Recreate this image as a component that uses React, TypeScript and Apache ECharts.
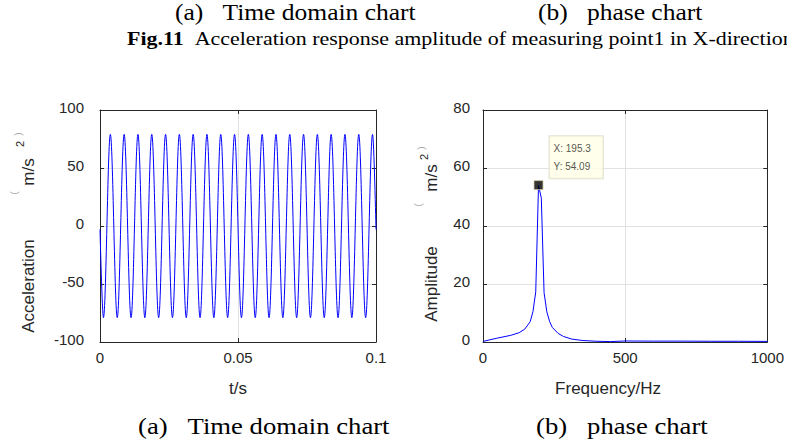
import React, { useEffect, useRef } from 'react';
import * as echarts from 'echarts';

// ---- Data ----
// (a) time-domain acceleration: extrema of the oscillation (time in ms, value in m/s^2)
const timeMs = [
  0, 1.25, 3.75, 6.25, 8.75, 11.25, 13.75, 16.25, 18.75, 21.25, 23.75,
  26.25, 28.75, 31.25, 33.75, 36.25, 38.75, 41.25, 43.75, 46.25, 48.75,
  51.25, 53.75, 56.25, 58.75, 61.25, 63.75, 66.25, 68.75, 71.25, 73.75,
  76.25, 78.75, 81.25, 83.75, 86.25, 88.75, 91.25, 93.75, 96.25, 98.75, 100,
];
const accel = [
  -3, -79, 79, -79, 79, -79, 79, -79, 79, -79, 79,
  -79, 79, -79, 79, -79, 79, -79, 79, -79, 79,
  -79, 79, -79, 79, -79, 79, -79, 79, -79, 79,
  -79, 79, -79, 79, -79, 79, -79, 79, -79, 79, -3,
];

// (b) amplitude spectrum
const freqHz = [
  0, 48.8, 97.7, 127.0, 146.5, 166.0, 175.8, 185.5, 195.3, 205.1, 214.8,
  224.6, 234.4, 244.1, 263.7, 283.2, 312.5, 351.6, 400.4, 449.2, 500.0,
  600.6, 700.2, 800.8, 899.4, 1000,
];
const amplitude = [
  0.2, 1.3, 2.3, 3.2, 4.4, 7.0, 10.5, 17.3, 54.09, 49.6, 17.0,
  10.4, 7.0, 5.0, 3.0, 1.9, 1.0, 0.5, 0.25, 0.15, 0.35,
  0.3, 0.3, 0.25, 0.25, 0.2,
];

// data tip
const tipFreq = 195.3;
const tipAmp = 54.09;

// axis ranges / ticks
const leftX = { min: 0, max: 0.1, interval: 0.05 };
const leftY = { min: -100, max: 100, interval: 50 };
const rightX = { min: 0, max: 1000, interval: 500 };
const rightY = { min: 0, max: 80, interval: 20 };

// texts
const SP3 = '\u00a0\u00a0\u00a0';
const topLine1a = `(a)${SP3}Time domain chart`;
const topLine1b = `(b)${SP3}phase chart`;
const figLabel = 'Fig.11';
const figTitle = 'Acceleration response amplitude of measuring point1 in X-direction';
const captionA = `(a)${SP3}Time domain chart`;
const captionB = `(b)${SP3}phase chart`;

const SANS = '"Liberation Sans", Arial, Helvetica, sans-serif';
const SERIF = '"Liberation Serif", "Times New Roman", serif';
const CJK = '"Noto Sans CJK SC", sans-serif';
const AX = '#262626';

const fmtNum = (v: number) => String(parseFloat(v.toFixed(4)));

function mainX(gridIndex: number, r: any) {
  return {
    type: 'value', gridIndex, position: 'bottom', ...r,
    axisLine: { show: true, onZero: false, lineStyle: { color: AX, width: 1 } },
    axisTick: { show: true, inside: true, length: 4, lineStyle: { color: AX } },
    axisLabel: { color: AX, fontSize: 15, fontFamily: SANS, margin: 8, formatter: fmtNum },
    splitLine: { show: true, lineStyle: { color: '#e2e2e2', width: 1 } },
  };
}
function boxX(gridIndex: number, r: any) {
  return {
    type: 'value', gridIndex, position: 'top', ...r,
    axisLine: { show: true, onZero: false, lineStyle: { color: AX, width: 1 } },
    axisTick: { show: true, inside: true, length: 4, lineStyle: { color: AX } },
    axisLabel: { show: false },
    splitLine: { show: false },
  };
}
function mainY(gridIndex: number, r: any, margin: number) {
  return {
    type: 'value', gridIndex, position: 'left', ...r,
    axisLine: { show: true, onZero: false, lineStyle: { color: AX, width: 1 } },
    axisTick: { show: true, inside: true, length: 4, lineStyle: { color: AX } },
    axisLabel: {
      color: AX, fontSize: 15, fontFamily: SANS, margin,
      verticalAlign: 'bottom', lineHeight: 6, formatter: fmtNum,
    },
    splitLine: { show: true, lineStyle: { color: '#e2e2e2', width: 1 } },
  };
}
function boxY(gridIndex: number, r: any) {
  return {
    type: 'value', gridIndex, position: 'right', ...r,
    axisLine: { show: true, onZero: false, lineStyle: { color: AX, width: 1 } },
    axisTick: { show: true, inside: true, length: 4, lineStyle: { color: AX } },
    axisLabel: { show: false },
    splitLine: { show: false },
  };
}

function txt(text: string, x: number, y: number, font: string, opts: any = {}) {
  return {
    type: 'text', x, y, rotation: opts.rotation || 0, scaleX: opts.scaleX || 1,
    silent: true, z: 100,
    style: {
      text, font, fill: opts.fill || AX,
      align: opts.align || 'center', verticalAlign: 'middle',
      rich: opts.rich,
    },
  };
}

export default function App() {
  const ref = useRef<HTMLDivElement>(null);
  useEffect(() => {
    document.body.style.margin = '0';
    const chart = echarts.init(ref.current!, null, { renderer: 'svg' });
    const R = Math.PI / 2;
    const option: any = {
      animation: false,
      backgroundColor: '#ffffff',
      grid: [
        { left: 100, right: 411, top: 110, bottom: 101, containLabel: false },
        { left: 483, right: 15, top: 110, bottom: 101, containLabel: false },
      ],
      xAxis: [mainX(0, leftX), boxX(0, leftX), mainX(1, rightX), boxX(1, rightX)],
      yAxis: [mainY(0, leftY, 16), boxY(0, leftY), mainY(1, rightY, 13), boxY(1, rightY)],
      series: [
        {
          type: 'line', xAxisIndex: 0, yAxisIndex: 0,
          data: timeMs.map((t, i) => [t / 1000, accel[i]]),
          smooth: 0.36, symbol: 'none',
          lineStyle: { color: '#0000ff', width: 1 },
        },
        {
          type: 'line', xAxisIndex: 2, yAxisIndex: 2,
          data: freqHz.map((f, i) => [f, amplitude[i]]),
          symbol: 'none',
          lineStyle: { color: '#0000ff', width: 1 },
        },
        {
          type: 'scatter', xAxisIndex: 2, yAxisIndex: 2, z: 10,
          data: [[tipFreq, tipAmp]],
          symbol: 'rect', symbolSize: 9,
          itemStyle: { color: '#000000', borderColor: '#cfc9a0', borderWidth: 1 },
          label: {
            show: true, position: 'top', distance: 2, offset: [11, 0],
            formatter: `X: ${tipFreq}\nY: ${tipAmp}`,
            fontSize: 10, fontFamily: SANS, color: '#262626', lineHeight: 18,
            align: 'left',
            backgroundColor: '#ffffe6', borderColor: '#d9d9c6', borderWidth: 1,
            padding: [3, 12, 3, 4],
          },
        },
      ],
      graphic: [
        txt(topLine1a, 175, 12, `23px ${SERIF}`, { align: 'left', fill: '#000', scaleX: 1.11 }),
        txt(topLine1b, 538, 12, `23px ${SERIF}`, { align: 'left', fill: '#000', scaleX: 1.11 }),
        txt(`{b|${figLabel}}\u00a0\u00a0${figTitle}`, 127, 39, `18px ${SERIF}`, {
          align: 'left', fill: '#000', scaleX: 1.22,
          rich: { b: { fontWeight: 'bold', fontFamily: SERIF, fontSize: 18, fill: '#000' } },
        }),
        txt(captionA, 138, 426, `23px ${SERIF}`, { align: 'left', fill: '#000', scaleX: 1.16 }),
        txt(captionB, 536, 426, `23px ${SERIF}`, { align: 'left', fill: '#000', scaleX: 1.16 }),
        // x-axis names
        txt('t/s', 238, 388, `17px ${SANS}`),
        txt('Frequency/Hz', 608, 388, `17px ${SANS}`),
        // left y-axis name
        txt('Acceleration', 28, 286, `17px ${SANS}`, { rotation: R }),
        txt('m/s', 28, 172, `17px ${SANS}`, { rotation: R }),
        txt('2', 20, 144, `11px ${SANS}`, { rotation: R }),
        txt('\uff08', 14, 196, `10px ${CJK}`, { rotation: R, fill: '#999' }),
        txt('\uff09', 18, 131, `10px ${CJK}`, { rotation: R, fill: '#999' }),
        // right y-axis name
        txt('Amplitude', 431, 284, `17px ${SANS}`, { rotation: R }),
        txt('m/s', 431, 178, `17px ${SANS}`, { rotation: R }),
        txt('2', 424, 157, `11px ${SANS}`, { rotation: R }),
        txt('\uff08', 418, 208, `10px ${CJK}`, { rotation: R, fill: '#999' }),
        txt('\uff09', 421, 145, `10px ${CJK}`, { rotation: R, fill: '#999' }),
      ],
    };
    chart.setOption(option);
    return () => chart.dispose();
  }, []);
  return <div ref={ref} style={{ width: 787, height: 443 }} />;
}
